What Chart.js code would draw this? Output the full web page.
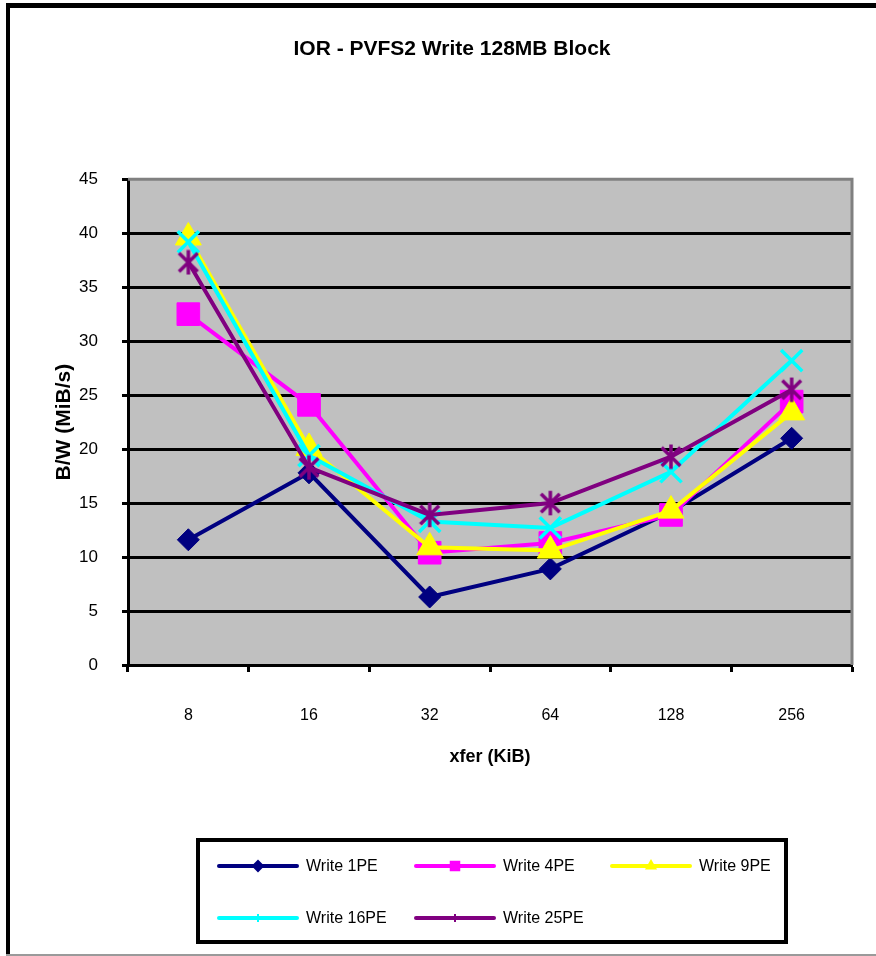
<!DOCTYPE html>
<html>
<head>
<meta charset="utf-8">
<script src="https://cdn.jsdelivr.net/npm/chart.js@4.4.1/dist/chart.umd.min.js"></script>
<style>
  html, body { margin: 0; padding: 0; background: #fff; }
  #wrap { position: relative; width: 876px; height: 956px; }
</style>
</head>
<body>
<div id="wrap"><canvas id="c" width="876" height="956"></canvas></div>
<script>
// Transfer sizes (KiB) on the x axis
const transferSizes = ['8', '16', '32', '64', '128', '256'];

// Write bandwidth (MiB/s) per process count
const write1PE  = [11.6, 17.8, 6.3, 8.9, 14.2, 21.0];
const write4PE  = [32.5, 24.1, 10.4, 11.3, 13.9, 24.4];
const write9PE  = [39.6, 20.1, 10.9, 10.6, 14.3, 23.4];
const write16PE = [39.2, 19.4, 13.3, 12.7, 17.9, 28.2];
const write25PE = [37.3, 18.3, 13.9, 15.0, 19.3, 25.5];

const seriesNames = ['Write 1PE', 'Write 4PE', 'Write 9PE', 'Write 16PE', 'Write 25PE'];
const yTickValues = [0, 5, 10, 15, 20, 25, 30, 35, 40, 45];

const SANS = '"Liberation Sans", Arial, sans-serif';

// Asterisk marker (x plus a vertical stroke)
function makeAsterisk(color, size, lw) {
  const cv = document.createElement('canvas');
  cv.width = size; cv.height = size;
  const g = cv.getContext('2d');
  g.strokeStyle = color; g.lineWidth = lw; g.lineCap = 'butt';
  const m = size / 2, a = size * 0.36, v = size * 0.47;
  g.beginPath();
  g.moveTo(m - a, m - a); g.lineTo(m + a, m + a);
  g.moveTo(m + a, m - a); g.lineTo(m - a, m + a);
  g.moveTo(m, m - v); g.lineTo(m, m + v);
  g.stroke();
  return cv;
}

const seriesStyles = [
  { color: '#000080', pointStyle: 'rectRot',  radius: 11, bw: 1,   legendStyle: 'rectRot',  legendRadius: 5 },
  { color: '#FF00FF', pointStyle: 'rect',     radius: 16, bw: 1,   legendStyle: 'rect',     legendRadius: 6 },
  { color: '#FFFF00', pointStyle: 'triangle', radius: 15, bw: 1,   legendStyle: 'triangle', legendRadius: 5 },
  { color: '#00FFFF', pointStyle: 'crossRot', radius: 15, bw: 3.5, legendStyle: 'cross',    legendRadius: 4 },
  { color: '#800080', pointStyle: makeAsterisk('#800080', 26, 3.5), radius: 13, bw: 1,
    legendStyle: 'cross', legendRadius: 4 }
];

const seriesValues = [write1PE, write4PE, write9PE, write16PE, write25PE];

const datasets = seriesValues.map((vals, i) => ({
  label: seriesNames[i],
  data: vals,
  borderColor: seriesStyles[i].color,
  backgroundColor: seriesStyles[i].color,
  borderWidth: 4,
  tension: 0,
  pointStyle: seriesStyles[i].pointStyle,
  pointRadius: seriesStyles[i].radius,
  pointBackgroundColor: seriesStyles[i].color,
  pointBorderColor: seriesStyles[i].color,
  pointBorderWidth: seriesStyles[i].bw,
  order: seriesValues.length - 1 - i
}));

// Page frame, plot background and plot border
const framePlugin = {
  id: 'frame',
  beforeDraw(chart) {
    const { ctx, chartArea: a } = chart;
    ctx.save();
    ctx.fillStyle = '#fff';
    ctx.fillRect(0, 0, chart.width, chart.height);
    ctx.fillStyle = '#000';
    ctx.fillRect(6, 3, chart.width - 6, 5);
    ctx.fillRect(6, 3, 4, chart.height - 3);
    ctx.fillStyle = '#9a9a9a';
    ctx.fillRect(6, chart.height - 2, chart.width - 6, 2);
    ctx.fillStyle = '#C0C0C0';
    ctx.fillRect(a.left, a.top, a.right - a.left, a.bottom - a.top);
    ctx.restore();
  },
  beforeDatasetsDraw(chart) {
    const { ctx, chartArea: a } = chart;
    ctx.save();
    ctx.strokeStyle = '#808080';
    ctx.lineWidth = 3;
    ctx.beginPath();
    ctx.moveTo(a.left, a.top);
    ctx.lineTo(a.right, a.top);
    ctx.lineTo(a.right, a.bottom);
    ctx.stroke();
    ctx.restore();
  }
};

// Boxed legend below the chart, three entries per row
const boxLegendPlugin = {
  id: 'boxLegend',
  afterDraw(chart) {
    const ctx = chart.ctx;
    const colX = [219, 416, 612];
    const rowY = [866, 918];
    ctx.save();
    ctx.strokeStyle = '#000';
    ctx.lineWidth = 4;
    ctx.strokeRect(198, 840, 588, 102);
    chart.data.datasets.forEach((ds, i) => {
      const st = seriesStyles[i];
      const x0 = colX[i % 3], y = rowY[Math.floor(i / 3)];
      ctx.strokeStyle = st.color;
      ctx.lineWidth = 4;
      ctx.lineCap = 'round';
      ctx.beginPath();
      ctx.moveTo(x0, y);
      ctx.lineTo(x0 + 78, y);
      ctx.stroke();
      ctx.lineCap = 'butt';
      ctx.fillStyle = st.color;
      ctx.lineWidth = 2;
      Chart.helpers.drawPoint(ctx, { pointStyle: st.legendStyle, radius: st.legendRadius, borderWidth: 2, rotation: 0 }, x0 + 39, y);
      ctx.fillStyle = '#000';
      ctx.font = '16px ' + SANS;
      ctx.textAlign = 'left';
      ctx.textBaseline = 'middle';
      ctx.fillText(ds.label, x0 + 87, y + 1);
    });
    ctx.restore();
  }
};

new Chart(document.getElementById('c'), {
  type: 'line',
  data: { labels: transferSizes, datasets },
  plugins: [framePlugin, boxLegendPlugin],
  options: {
    responsive: false,
    animation: false,
    events: [],
    layout: { padding: { left: 52, right: 24, top: 0, bottom: 181 } },
    plugins: {
      legend: { display: false },
      tooltip: { enabled: false },
      title: {
        display: true,
        text: 'IOR - PVFS2 Write 128MB Block',
        color: '#000',
        font: { family: SANS, size: 21, weight: 'bold' },
        padding: { top: 37, bottom: 117 }
      }
    },
    scales: {
      x: {
        type: 'category',
        offset: true,
        grid: {
          offset: true,
          drawOnChartArea: false,
          drawTicks: true,
          tickLength: 7,
          tickColor: '#000',
          tickWidth: 3
        },
        border: { display: true, color: '#000', width: 3 },
        ticks: { color: '#000', font: { family: SANS, size: 16 }, padding: 34 },
        title: {
          display: true,
          text: 'xfer (KiB)',
          color: '#000',
          font: { family: SANS, size: 18, weight: 'bold' },
          padding: { top: 0, bottom: 7 }
        },
        afterFit(scale) { scale.height = 110; }
      },
      y: {
        min: 0,
        max: 45,
        afterBuildTicks(scale) { scale.ticks = yTickValues.map(v => ({ value: v })); },
        grid: {
          color: c => (c.tick && c.tick.value === 45) ? 'rgba(0,0,0,0)' : '#000',
          lineWidth: 3,
          tickLength: 6,
          tickColor: '#000',
          tickWidth: 3
        },
        border: { display: true, color: '#000', width: 3 },
        ticks: { color: '#000', font: { family: SANS, size: 17 }, padding: 24 },
        title: {
          display: true,
          text: 'B/W (MiB/s)',
          color: '#000',
          font: { family: SANS, size: 21, weight: 'bold' },
          padding: { top: 0, bottom: 0 }
        },
        afterFit(scale) { scale.width = 76; }
      }
    }
  }
});
</script>
</body>
</html>
